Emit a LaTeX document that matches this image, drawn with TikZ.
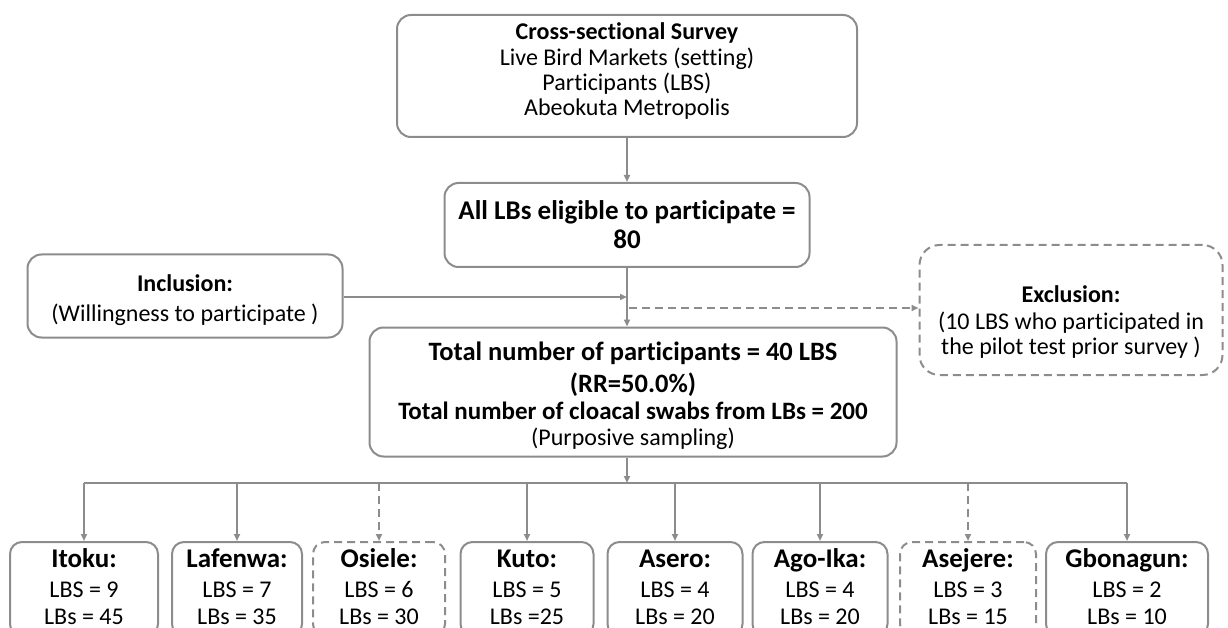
\documentclass[tikz,border=0pt]{standalone}
\usepackage{fontspec}
\setmainfont{Carlito}[Ligatures=NoCommon]
\usetikzlibrary{arrows.meta}
\definecolor{linegray}{RGB}{140,140,140}
\tikzset{
  box/.style={draw=linegray, line width=2pt, rounded corners=14pt, align=center, inner sep=2pt},
  dashbox/.style={box, dash pattern=on 8pt off 5pt},
  conn/.style={draw=linegray, line width=2pt, -{Triangle[length=7pt,width=6pt]}},
  dashconn/.style={conn, dash pattern=on 8pt off 5pt},
  site/.style={box, rounded corners=12pt, minimum height=94pt, text depth=8pt, font=\fontsize{24}{27}\selectfont},
  dashsite/.style={site, dash pattern=on 8pt off 5pt}
}
\newcommand{\sitename}[1]{\fontsize{27}{30}\selectfont\rule{0pt}{21pt}\textbf{#1}\\[3pt]\fontsize{24}{27}\selectfont}
\begin{document}
\begin{tikzpicture}[x=1pt, y=-1pt]
    \useasboundingbox (0,0) rectangle (1228,628);

    %felső dobozok
    \node[box, minimum width=460pt, minimum height=122pt, text depth=13pt, font=\fontsize{24}{25.3}\selectfont] (survey) at (627,76)
      {\textbf{Cross-sectional Survey}\\Live Bird Markets (setting)\\Participants (LBS)\\Abeokuta Metropolis};
    \node[box, minimum width=365pt, minimum height=84pt, font=\fontsize{27}{29}\selectfont\bfseries] (eligible) at (627,225)
      {All LBs eligible to participate =\\80};
    \node[box, minimum width=315pt, minimum height=83pt, font=\fontsize{24}{30}\selectfont] (incl) at (185,296)
      {\rule{0pt}{25pt}\textbf{Inclusion:}\\(Willingness to participate )};
    \node[dashbox, rounded corners=20pt, minimum width=303pt, minimum height=130pt, font=\fontsize{24}{25}\selectfont] (excl) at (1071,310)
      {\rule{0pt}{40pt}\textbf{Exclusion:}\\[2pt](10 LBS who participated in\\the pilot test prior survey )};
    \node[box, minimum width=527pt, minimum height=129pt, font=\fontsize{26.5}{32}\selectfont] (total) at (633,392)
      {\rule{0pt}{26pt}\textbf{Total number of participants = 40 LBS}\\\textbf{(RR=50.0\%)}\\[-5pt]
       {\fontsize{25}{26}\selectfont\textbf{Total number of cloacal swabs from LBs = 200}}\\[-6pt]
       {\fontsize{24}{26}\selectfont(Purposive sampling)}};

    %a piacok
    \node[site, minimum width=148pt] (itoku) at (84,589) {\sitename{Itoku:}LBS = 9\\LBs = 45};
    \node[site, minimum width=130pt] (lafenwa) at (237,589) {\sitename{Lafenwa:}LBS = 7\\LBs = 35};
    \node[dashsite, minimum width=132pt] (osiele) at (379,589) {\sitename{Osiele:}LBS = 6\\LBs = 30};
    \node[site, minimum width=133pt] (kuto) at (527,589) {\sitename{Kuto:}LBS = 5\\LBs =25};
    \node[site, minimum width=135pt] (asero) at (675,589) {\sitename{Asero:}LBS = 4\\LBs = 20};
    \node[site, minimum width=135pt] (agoika) at (820,589) {\sitename{Ago-Ika:}LBS = 4\\LBs = 20};
    \node[dashsite, minimum width=136pt] (asejere) at (968,589) {\sitename{Asejere:}LBS = 3\\LBs = 15};
    \node[site, minimum width=162pt] (gbonagun) at (1127,589) {\sitename{Gbonagun:}LBS = 2\\LBs = 10};

    %nyilak
    \coordinate (inmeet) at (627,297);
    \coordinate (exstart) at (629,308);
    \coordinate (split) at (627,483);
    \draw[conn] (survey) -- (eligible);
    \draw[conn] (eligible.south) -- (eligible.south |- total.north);
    \draw[conn] (incl.east |- inmeet) -- (inmeet);
    \draw[dashconn] (exstart) -- (excl.west |- exstart);
    \draw[conn] (total.south -| split) -- (split);
    \draw[draw=linegray, line width=2pt] (itoku.north |- split) -- (gbonagun.north |- split);
    \draw[conn] (itoku.north |- split) -- (itoku.north);
    \draw[conn] (lafenwa.north |- split) -- (lafenwa.north);
    \draw[dashconn] (osiele.north |- split) -- (osiele.north);
    \draw[conn] (kuto.north |- split) -- (kuto.north);
    \draw[conn] (asero.north |- split) -- (asero.north);
    \draw[conn] (agoika.north |- split) -- (agoika.north);
    \draw[dashconn] (asejere.north |- split) -- (asejere.north);
    \draw[conn] (gbonagun.north |- split) -- (gbonagun.north);
\end{tikzpicture}
\end{document}
